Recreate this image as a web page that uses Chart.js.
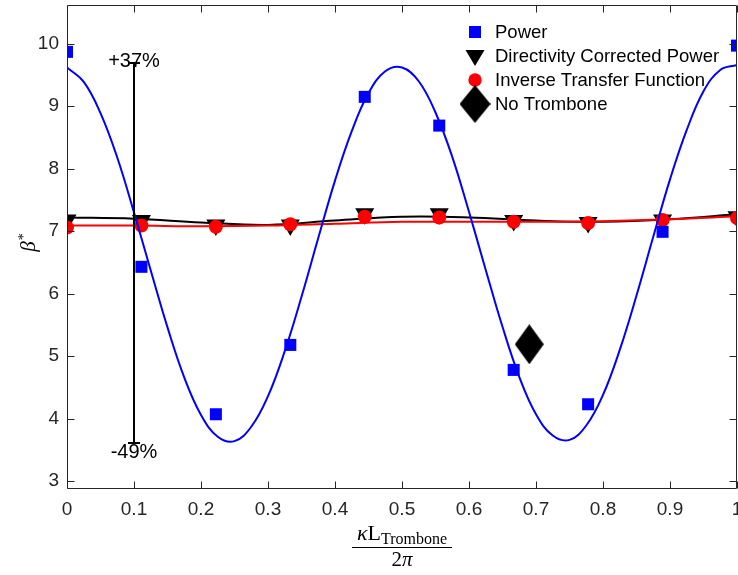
<!DOCTYPE html>
<html>
<head>
<meta charset="utf-8">
<script src="https://cdn.jsdelivr.net/npm/chart.js@4.4.0/dist/chart.umd.min.js"></script>
<style>
  html, body { margin: 0; padding: 0; background: #fff; }
  canvas { display: block; }
</style>
</head>
<body>
<canvas id="betaChart" width="738" height="575"></canvas>
<script>
// measured points (kappa*L/2pi)
const sampleX = [0, 0.1111, 0.2222, 0.3333, 0.4444, 0.5556, 0.6667, 0.7778, 0.8889, 1];
const powerValues = [9.87, 6.43, 4.07, 5.18, 9.15, 8.69, 4.78, 4.23, 6.99, 9.97];
const directivityValues = [7.18, 7.17, 7.10, 7.10, 7.28, 7.28, 7.17, 7.14, 7.18, 7.23];
const inverseValues = [7.06, 7.09, 7.07, 7.11, 7.23, 7.22, 7.15, 7.13, 7.18, 7.21];

// fitted curves
const powerFitX = [0, 0.025, 0.05, 0.075, 0.1, 0.125, 0.15, 0.175, 0.2, 0.225,
  0.25, 0.275, 0.3, 0.325, 0.35, 0.375, 0.4, 0.425, 0.45, 0.475,
  0.5, 0.525, 0.55, 0.575, 0.6, 0.625, 0.65, 0.675, 0.7, 0.725,
  0.75, 0.775, 0.8, 0.825, 0.85, 0.875, 0.9, 0.925, 0.95, 0.975, 1];
const powerFit = [9.62, 9.39, 8.89, 8.18, 7.30, 6.37, 5.46, 4.66, 4.06, 3.71,
  3.64, 3.87, 4.36, 5.08, 5.95, 6.89, 7.81, 8.60, 9.21, 9.56,
  9.62, 9.40, 8.90, 8.19, 7.31, 6.38, 5.47, 4.67, 4.07, 3.73,
  3.66, 3.89, 4.38, 5.10, 5.97, 6.91, 7.83, 8.62, 9.24, 9.58, 9.66];
const flatFitX = [0, 0.1, 0.2, 0.3, 0.4, 0.5, 0.6, 0.7, 0.8, 0.9, 1];
const directivityFit = [7.22, 7.20, 7.14, 7.10, 7.17, 7.23, 7.22, 7.17, 7.15, 7.19, 7.27];
const inverseFit = [7.09, 7.09, 7.08, 7.09, 7.12, 7.15, 7.15, 7.15, 7.16, 7.19, 7.24];

const noTrombone = { x: 0.69, y: 5.19 };
const errorBar = { x: 0.1, low: 3.61, high: 9.69, upLabel: '+37%', downLabel: '-49%' };

const xTicks = [0, 0.1, 0.2, 0.3, 0.4, 0.5, 0.6, 0.7, 0.8, 0.9, 1];
const yTicks = [3, 4, 5, 6, 7, 8, 9, 10];

const legendLabels = ['Power', 'Directivity Corrected Power', 'Inverse Transfer Function', 'No Trombone'];

const axisColor = '#262626';
const sansFont = '"Liberation Sans", Arial, sans-serif';
const serifFont = '"Liberation Serif", "Times New Roman", serif';

function pairs(xs, ys) {
  return xs.map((x, i) => ({ x: x, y: ys[i] }));
}

// diamond marker (MATLAB draws it taller than wide)
function makeDiamond(w, h) {
  const c = document.createElement('canvas');
  c.width = w;
  c.height = h;
  const g = c.getContext('2d');
  g.fillStyle = '#000';
  g.beginPath();
  g.moveTo(w / 2, 0);
  g.lineTo(w, h / 2);
  g.lineTo(w / 2, h);
  g.lineTo(0, h / 2);
  g.closePath();
  g.fill();
  return c;
}
const diamondImg = makeDiamond(29, 40);

const decorPlugin = {
  id: 'decor',
  afterDatasetsDraw(chart) {
    const ctx = chart.ctx;
    const xs = chart.scales.x;
    const ys = chart.scales.y;
    const area = chart.chartArea;

    // error bar
    const ex = xs.getPixelForValue(errorBar.x);
    const eTop = ys.getPixelForValue(errorBar.high);
    const eBot = ys.getPixelForValue(errorBar.low);
    ctx.save();
    ctx.strokeStyle = '#000';
    ctx.lineWidth = 2;
    ctx.beginPath();
    ctx.moveTo(ex, eTop);
    ctx.lineTo(ex, eBot);
    ctx.moveTo(ex - 6, eTop);
    ctx.lineTo(ex + 6, eTop);
    ctx.moveTo(ex - 6, eBot);
    ctx.lineTo(ex + 6, eBot);
    ctx.stroke();
    ctx.fillStyle = '#000';
    ctx.font = '20px ' + sansFont;
    ctx.textAlign = 'center';
    ctx.textBaseline = 'middle';
    ctx.fillText(errorBar.upLabel, ex, eTop - 2);
    ctx.fillText(errorBar.downLabel, ex, eBot + 9);
    ctx.restore();

    // axes box + inward ticks
    ctx.save();
    ctx.strokeStyle = axisColor;
    ctx.lineWidth = 1;
    const L = Math.round(area.left) + 0.5;
    const R = Math.round(area.right) - 0.5;
    const T = Math.round(area.top) + 0.5;
    const B = Math.round(area.bottom) + 0.5;
    ctx.beginPath();
    ctx.moveTo(L, T); ctx.lineTo(R, T); ctx.lineTo(R, B); ctx.lineTo(L, B); ctx.closePath();
    xTicks.forEach(v => {
      const px = Math.round(xs.getPixelForValue(v)) + 0.5;
      ctx.moveTo(px, B); ctx.lineTo(px, B - 7);
      ctx.moveTo(px, T); ctx.lineTo(px, T + 7);
    });
    yTicks.forEach(v => {
      const py = Math.round(ys.getPixelForValue(v)) + 0.5;
      ctx.moveTo(L, py); ctx.lineTo(L + 7, py);
      ctx.moveTo(R, py); ctx.lineTo(R - 7, py);
    });
    ctx.stroke();
    ctx.restore();

    // legend
    ctx.save();
    const lx = 475;
    const rows = [32, 56, 80, 104];
    ctx.fillStyle = '#0000ff';
    ctx.fillRect(lx - 6, rows[0] - 6, 12, 12);
    ctx.fillStyle = '#000';
    ctx.beginPath();
    ctx.moveTo(lx - 9.5, rows[1] - 6);
    ctx.lineTo(lx + 9.5, rows[1] - 6);
    ctx.lineTo(lx, rows[1] + 10);
    ctx.closePath();
    ctx.fill();
    ctx.fillStyle = '#ff0000';
    ctx.beginPath();
    ctx.arc(lx, rows[2], 6.7, 0, Math.PI * 2);
    ctx.fill();
    ctx.drawImage(makeDiamond(31, 38), lx - 15.5, rows[3] - 19);
    ctx.fillStyle = '#000';
    ctx.font = '18.5px ' + sansFont;
    ctx.textAlign = 'left';
    ctx.textBaseline = 'middle';
    legendLabels.forEach((t, i) => ctx.fillText(t, 495, rows[i] + 1));
    ctx.restore();

    // y axis title: beta*
    ctx.save();
    ctx.translate(35, 243);
    ctx.rotate(-Math.PI / 2);
    ctx.fillStyle = '#000';
    ctx.textBaseline = 'alphabetic';
    ctx.textAlign = 'left';
    ctx.font = 'italic 21px ' + serifFont;
    const bw = ctx.measureText('β').width;
    ctx.font = '14px ' + serifFont;
    const sw = ctx.measureText('*').width;
    const start = -(bw + sw) / 2;
    ctx.font = 'italic 21px ' + serifFont;
    ctx.fillText('β', start, 0);
    ctx.font = '14px ' + serifFont;
    ctx.fillText('*', start + bw + 1, -7);
    ctx.restore();

    // x axis title: kappa L_Trombone / 2 pi
    ctx.save();
    const cx = (area.left + area.right) / 2;
    ctx.fillStyle = '#000';
    ctx.textBaseline = 'alphabetic';
    ctx.textAlign = 'left';
    ctx.font = 'italic 22px ' + serifFont;
    const kw = ctx.measureText('κ').width;
    ctx.font = '22px ' + serifFont;
    const Lw = ctx.measureText('L').width;
    ctx.font = '16px ' + serifFont;
    const tw = ctx.measureText('Trombone').width;
    let nx = cx - (kw + Lw + tw) / 2;
    ctx.font = 'italic 22px ' + serifFont;
    ctx.fillText('κ', nx, 540);
    nx += kw;
    ctx.font = '22px ' + serifFont;
    ctx.fillText('L', nx, 540);
    nx += Lw;
    ctx.font = '16px ' + serifFont;
    ctx.fillText('Trombone', nx, 544);
    ctx.strokeStyle = '#000';
    ctx.lineWidth = 1;
    ctx.beginPath();
    ctx.moveTo(cx - 50, 547.5);
    ctx.lineTo(cx + 50, 547.5);
    ctx.stroke();
    ctx.font = '21px ' + serifFont;
    const w2 = ctx.measureText('2').width;
    ctx.font = 'italic 21px ' + serifFont;
    const wp = ctx.measureText('π').width;
    let dx = cx - (w2 + wp) / 2;
    ctx.font = '21px ' + serifFont;
    ctx.fillText('2', dx, 566);
    ctx.font = 'italic 21px ' + serifFont;
    ctx.fillText('π', dx + w2, 566);
    ctx.restore();
  }
};

const ctx = document.getElementById('betaChart').getContext('2d');
new Chart(ctx, {
  type: 'scatter',
  data: {
    datasets: [
      {
        label: 'No Trombone',
        data: [noTrombone],
        pointStyle: diamondImg,
        order: 0
      },
      {
        label: 'Power',
        data: pairs(sampleX, powerValues),
        pointStyle: 'rect',
        pointRadius: 8.5,
        backgroundColor: '#0000ff',
        borderWidth: 0,
        order: 1
      },
      {
        label: 'Power fit',
        data: pairs(powerFitX, powerFit),
        showLine: true,
        pointRadius: 0,
        borderColor: '#0000ff',
        borderWidth: 2,
        tension: 0.4,
        order: 2
      },
      {
        label: 'Inverse Transfer Function',
        data: pairs(sampleX, inverseValues),
        pointStyle: 'circle',
        pointRadius: 7,
        backgroundColor: '#ff0000',
        borderWidth: 0,
        order: 3
      },
      {
        label: 'Inverse fit',
        data: pairs(flatFitX, inverseFit),
        showLine: true,
        pointRadius: 0,
        borderColor: '#ff0000',
        borderWidth: 2,
        tension: 0.4,
        order: 4
      },
      {
        label: 'Directivity Corrected Power',
        data: pairs(sampleX, directivityValues),
        pointStyle: 'triangle',
        rotation: 180,
        pointRadius: 11,
        backgroundColor: '#000',
        borderWidth: 0,
        order: 5
      },
      {
        label: 'Directivity fit',
        data: pairs(flatFitX, directivityFit),
        showLine: true,
        pointRadius: 0,
        borderColor: '#000',
        borderWidth: 2,
        tension: 0.4,
        order: 6
      }
    ]
  },
  options: {
    responsive: false,
    animation: false,
    layout: { autoPadding: false, padding: { top: 5, right: 1, left: 0, bottom: 0 } },
    plugins: {
      legend: { display: false },
      tooltip: { enabled: false }
    },
    scales: {
      x: {
        type: 'linear',
        min: 0,
        max: 1,
        grid: { display: false, drawTicks: false },
        border: { display: false },
        ticks: {
          color: axisColor,
          font: { family: sansFont, size: 19 },
          padding: 10,
          maxRotation: 0,
          autoSkip: false,
          callback: v => String(Math.round(v * 10) / 10)
        },
        afterBuildTicks: s => { s.ticks = xTicks.map(v => ({ value: v })); },
        afterFit: s => { s.height = 87; s.paddingLeft = 0; s.paddingRight = 0; }
      },
      y: {
        type: 'linear',
        min: 2.89,
        max: 10.62,
        grid: { display: false, drawTicks: false },
        border: { display: false },
        ticks: {
          color: axisColor,
          font: { family: sansFont, size: 19 },
          padding: 8,
          autoSkip: false,
          callback: v => String(v)
        },
        afterBuildTicks: s => { s.ticks = yTicks.map(v => ({ value: v })); },
        afterFit: s => { s.width = 67; s.paddingTop = 0; s.paddingBottom = 0; }
      }
    }
  },
  plugins: [decorPlugin]
});
</script>
</body>
</html>
